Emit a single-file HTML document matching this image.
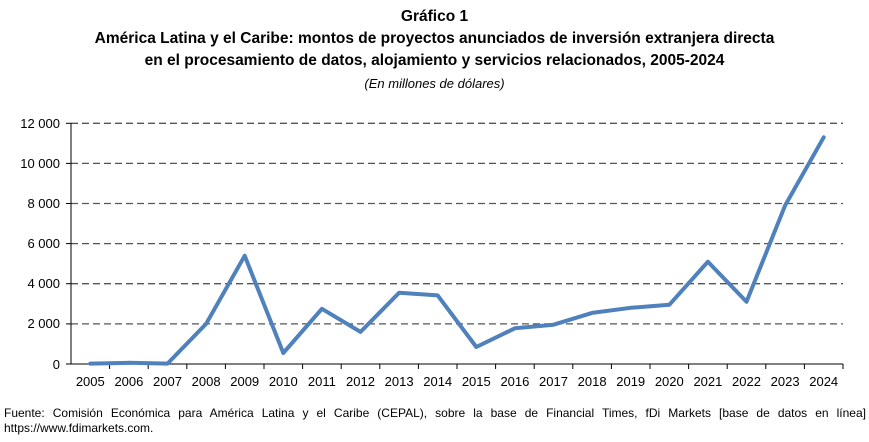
<!DOCTYPE html>
<html><head><meta charset="utf-8"><style>
body{margin:0;background:#fff;width:869px;height:442px;overflow:hidden;font-family:"Liberation Sans",sans-serif}
.t{position:absolute;left:0;width:869px;text-align:center;font-weight:bold;font-size:15.5px;color:#000}
</style></head><body>
<div class="t" style="top:8px">Gráfico 1</div>
<div class="t" style="top:30px">América Latina y el Caribe: montos de proyectos anunciados de inversión extranjera directa</div>
<div class="t" style="top:52px">en el procesamiento de datos, alojamiento y servicios relacionados, 2005-2024</div>
<div class="t" style="top:76px;font-weight:normal;font-style:italic;font-size:13px">(En millones de dólares)</div>
<svg width="869" height="442" style="position:absolute;left:0;top:0" font-family="Liberation Sans, sans-serif" font-size="13">
<g stroke="#555" stroke-width="1.3" stroke-dasharray="7,4">
<line x1="71" x2="843" y1="123.3" y2="123.3"/><line x1="71" x2="843" y1="163.4" y2="163.4"/>
<line x1="71" x2="843" y1="203.5" y2="203.5"/><line x1="71" x2="843" y1="243.6" y2="243.6"/>
<line x1="71" x2="843" y1="283.7" y2="283.7"/><line x1="71" x2="843" y1="323.9" y2="323.9"/>
</g>
<g stroke="#000" stroke-width="1">
<line x1="71" x2="71" y1="123" y2="364"/><line x1="66" x2="843" y1="364" y2="364"/>
<line x1="66" x2="71" y1="123.3" y2="123.3"/><line x1="66" x2="71" y1="163.4" y2="163.4"/><line x1="66" x2="71" y1="203.5" y2="203.5"/><line x1="66" x2="71" y1="243.6" y2="243.6"/><line x1="66" x2="71" y1="283.7" y2="283.7"/><line x1="66" x2="71" y1="323.9" y2="323.9"/>
</g>
<g id="ticks" stroke="#000"></g>
<g text-anchor="end" fill="#000">
<text x="60" y="128">12 000</text><text x="60" y="168">10 000</text><text x="60" y="208">8 000</text><text x="60" y="248">6 000</text><text x="60" y="288">4 000</text><text x="60" y="328">2 000</text><text x="60" y="369">0</text>
</g>
<g id="yrs" text-anchor="middle" fill="#000"></g>
<polyline id="ln" fill="none" stroke="#4f81bd" stroke-width="4" stroke-linejoin="round" stroke-linecap="round"/>
</svg>
<div style="position:absolute;left:4px;top:406px;font-size:12px;color:#000;line-height:15px;width:862px;text-align:justify">Fuente: Comisión Económica para América Latina y el Caribe (CEPAL), sobre la base de Financial Times, fDi Markets [base de datos en línea] https://www.fdimarkets.com.</div>
<script>
var d=[20,60,20,2000,5400,550,2750,1600,3550,3420,850,1780,1960,2550,2800,2950,5100,3100,7900,11300];
var w=(843-71)/20,pts=[],ns="http://www.w3.org/2000/svg",tk=document.getElementById('ticks'),yr=document.getElementById('yrs');
for(var i=0;i<20;i++){var x=71+w*(i+.5);pts.push(x.toFixed(1)+","+(364-d[i]*240.7/12000).toFixed(1));
var t=document.createElementNS(ns,'text');t.setAttribute('x',x);t.setAttribute('y',386);t.textContent=2005+i;yr.appendChild(t);
var l=document.createElementNS(ns,'line');var lx=71+w*(i+1);l.setAttribute('x1',lx);l.setAttribute('x2',lx);l.setAttribute('y1',364);l.setAttribute('y2',369);tk.appendChild(l);}
document.getElementById('ln').setAttribute('points',pts.join(' '));
</script>
</body></html>
